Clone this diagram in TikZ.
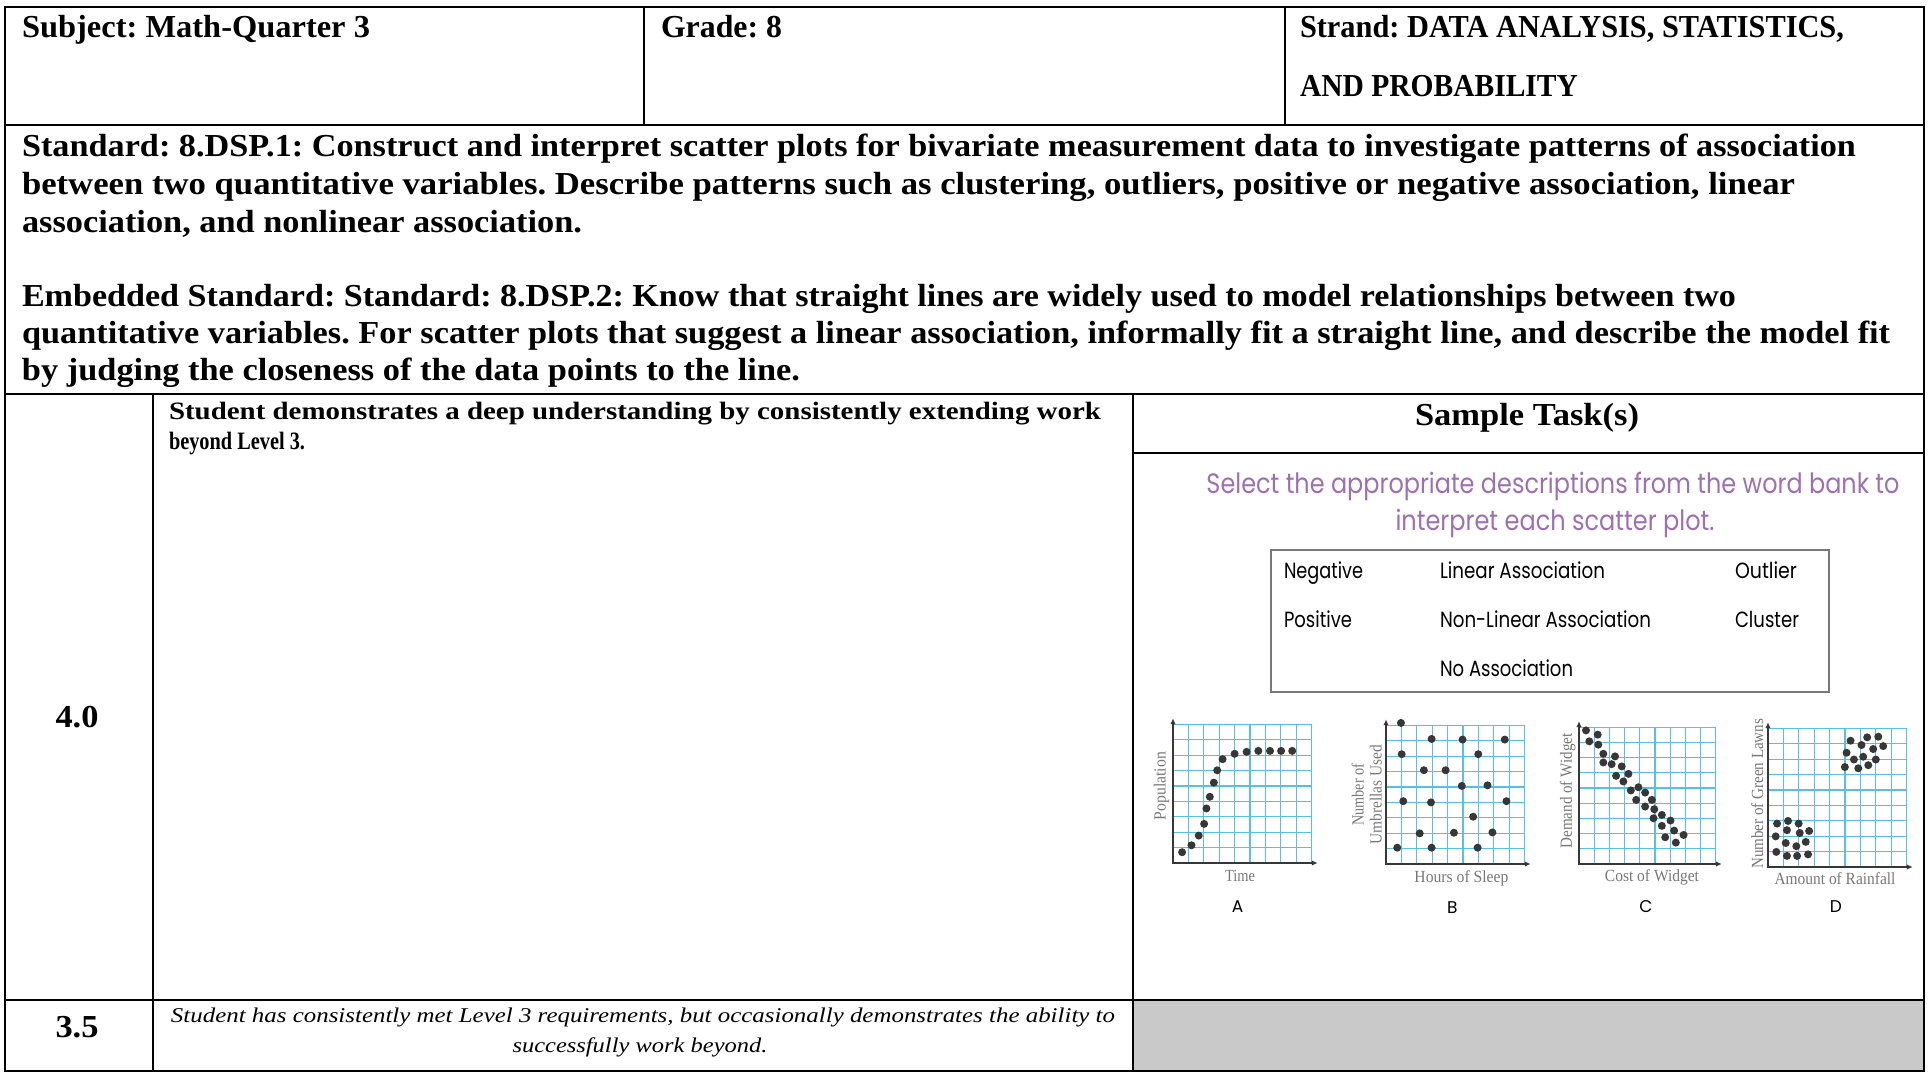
\documentclass[tikz,border=0pt]{standalone}
\usepackage{fontspec}
\setmainfont{Liberation Serif}
\newfontfamily\roundsans{Poppins}
\usetikzlibrary{arrows.meta}

\definecolor{taskpurple}{RGB}{158,112,178}
\definecolor{gridblue}{RGB}{85,192,232}
\definecolor{dotgray}{RGB}{55,55,55}
\definecolor{cellgray}{RGB}{201,201,201}
\definecolor{labelgray}{RGB}{120,120,120}
\definecolor{bankborder}{RGB}{120,120,120}

% set one line of text to a given width, keeping its height
\newcommand{\fitw}[2]{\resizebox{#1pt}{\height}{#2}}

% grid and axes of one scatter plot, in plot units
\newcommand{\plotframe}{%
  \foreach \i in {1,...,9} {%
    \draw[gridline] (\i,0) -- (\i,9);
    \draw[gridline] (0,\i) -- (9,\i);
  }
  \draw[axisline] (0,9.4) -- (0,0) -- (9.4,0);
}

\tikzset{
  tableline/.style={line width=2pt, black},
  txt/.style={inner sep=0pt, outer sep=0pt, anchor=base west},
  ctxt/.style={inner sep=0pt, outer sep=0pt, anchor=base},
  hdrfont/.style={font=\fontsize{32}{37}\selectfont\bfseries},
  stdfont/.style={font=\fontsize{32}{37}\selectfont\bfseries},
  lvlfont/.style={font=\fontsize{25}{30}\selectfont\bfseries},
  itfont/.style={font=\fontsize{21}{30}\selectfont\itshape},
  taskfont/.style={font=\roundsans\fontsize{28}{30}\selectfont, text=taskpurple},
  bankfont/.style={font=\roundsans\fontsize{22}{24}\selectfont},
  axlabel/.style={font=\fontsize{17}{18}\selectfont, text=labelgray, inner sep=0pt, align=center},
  plotletter/.style={font=\roundsans\fontsize{17}{18}\selectfont, inner sep=0pt},
  gridline/.style={gridblue, line width=1.2pt},
  axisline/.style={line width=2.2pt, dotgray, {Latex[length=6pt,width=5.5pt]}-{Latex[length=6pt,width=5.5pt]}},
  plotdot/.style={fill=dotgray},
}

\begin{document}
\frenchspacing
\begin{tikzpicture}[x=1pt, y=-1pt]
\useasboundingbox (0,0) rectangle (1931,1073);
\fill[white] (0,0) rectangle (1931,1073);

% shaded cell of the 3.5 row
\fill[cellgray] (1133,1000) rectangle (1924,1071);

% table rules
\draw[tableline] (5,7) rectangle (1924,1071);
\draw[tableline] (5,125) -- (1924,125);
\draw[tableline] (5,394) -- (1924,394);
\draw[tableline] (5,1000) -- (1924,1000);
\draw[tableline] (1133,453) -- (1924,453);
\draw[tableline] (644,7) -- (644,125);
\draw[tableline] (1285,7) -- (1285,125);
\draw[tableline] (153,394) -- (153,1071);
\draw[tableline] (1133,394) -- (1133,1071);

% header row
\node[txt, hdrfont] (subject) at (22,38) {\fitw{348}{Subject: Math-Quarter 3}};
\node[txt, hdrfont] (grade) at (661,38) {\fitw{121}{Grade: 8}};
\node[txt, hdrfont] (strandA) at (1300,38) {\fitw{544}{Strand: DATA ANALYSIS, STATISTICS,}};
\node[txt, hdrfont] (strandB) at (1300,96) {\fitw{278}{AND PROBABILITY}};

% standards
\node[txt, stdfont] (stdA) at (22,156) {\fitw{1834}{Standard: 8.DSP.1: Construct and interpret scatter plots for bivariate measurement data to investigate patterns of association}};
\node[txt, stdfont] (stdB) at (22,194) {\fitw{1773}{between two quantitative variables. Describe patterns such as clustering, outliers, positive or negative association, linear}};
\node[txt, stdfont] (stdC) at (22,232) {\fitw{560}{association, and nonlinear association.}};
\node[txt, stdfont] (embA) at (22,306) {\fitw{1714}{Embedded Standard: Standard: 8.DSP.2: Know that straight lines are widely used to model relationships between two}};
\node[txt, stdfont] (embB) at (22,343) {\fitw{1868}{quantitative variables. For scatter plots that suggest a linear association, informally fit a straight line, and describe the model fit}};
\node[txt, stdfont] (embC) at (22,380) {\fitw{778}{by judging the closeness of the data points to the line.}};

% level 4.0
\node[ctxt, stdfont] (lvlfour) at (77,727) {\fitw{43}{4.0}};
\node[txt, lvlfont] (fourA) at (169,419) {\fitw{932}{Student demonstrates a deep understanding by consistently extending work}};
\node[txt, lvlfont] (fourB) at (169,449) {\fitw{136}{beyond Level 3.}};
\node[ctxt, stdfont] (sample) at (1527,425) {\fitw{224}{Sample Task(s)}};

% sample task prompt
\node[ctxt, taskfont] (promptA) at (1553,493) {\fitw{693}{Select the appropriate descriptions from the word bank to}};
\node[ctxt, taskfont] (promptB) at (1555,530) {\fitw{319}{interpret each scatter plot.}};

% word bank
\draw[bankborder, line width=1.3pt] (1271,550) rectangle (1829,692);
\node[txt, bankfont] (wNeg) at (1284,578) {\fitw{79}{Negative}};
\node[txt, bankfont] (wLin) at (1440,578) {\fitw{165}{Linear Association}};
\node[txt, bankfont] (wOut) at (1735,578) {\fitw{62}{Outlier}};
\node[txt, bankfont] (wPos) at (1284,627) {\fitw{68}{Positive}};
\node[txt, bankfont] (wNon) at (1440,627) {\fitw{211}{Non-Linear Association}};
\node[txt, bankfont] (wClu) at (1735,627) {\fitw{64}{Cluster}};
\node[txt, bankfont] (wNo) at (1440,676) {\fitw{133}{No Association}};

% plot A: population over time
\begin{scope}[shift={(1173,863)}, x=15.4pt, y=15.4pt]
  \plotframe
  \foreach \p in {(0.59,0.70),(1.20,1.15),(1.67,1.78),(2.02,2.54),(2.17,3.54),(2.39,4.30),(2.65,5.22),(2.87,6.02),(3.22,6.74),(4.0,7.09),(4.78,7.22),(5.54,7.28),(6.30,7.28),(7.02,7.28),(7.74,7.28)}
    \fill[plotdot] \p circle (4pt);
  \node[axlabel, rotate=90] (labAy) at (-0.75,5.0) {\fitw{68}{Population}};
  \node[axlabel] (labAx) at (4.35,-0.85) {\fitw{30}{Time}};
  \node[plotletter] (letA) at (4.2,-2.85) {A};
\end{scope}

% plot B: umbrellas against sleep
\begin{scope}[shift={(1386,864)}, x=15.4pt, y=15.4pt]
  \plotframe
  \foreach \p in {(0.97,9.16),(2.96,8.12),(4.97,8.08),(7.71,8.08),(1.02,7.13),(5.99,7.13),(2.46,6.09),(3.87,6.09),(4.92,5.07),(6.59,5.11),(1.12,4.08),(2.92,4.0),(7.82,4.08),(5.66,3.07),(2.19,1.99),(4.41,2.03),(6.91,2.05),(0.73,1.06),(2.96,1.06),(5.95,1.06)}
    \fill[plotdot] \p circle (4pt);
  \node[axlabel, rotate=90] (labBy) at (-1.25,4.5) {\fitw{62}{Number of}\\\fitw{100}{Umbrellas Used}};
  \node[axlabel] (labBx) at (4.9,-0.9) {\fitw{94}{Hours of Sleep}};
  \node[plotletter] (letB) at (4.3,-2.8) {B};
\end{scope}

% plot C: demand against cost
\begin{scope}[shift={(1579,864)}, x=15.2pt, y=15.2pt]
  \plotframe
  \foreach \p in {(0.46,8.79),(1.23,8.51),(0.68,8.07),(1.27,7.85),(1.60,7.25),(2.37,7.08),(1.60,6.68),(2.15,6.57),(2.81,6.42),(2.44,5.80),(3.25,5.93),(2.92,5.43),(3.41,4.84),(3.91,5.05),(3.76,4.22),(4.35,4.70),(4.35,3.78),(4.79,4.22),(4.95,3.60),(5.45,3.23),(4.90,3.01),(6.02,2.86),(5.45,2.51),(6.26,2.20),(5.67,1.76),(6.88,1.91),(6.37,1.41)}
    \fill[plotdot] \p circle (4pt);
  \node[axlabel, rotate=90] (labCy) at (-0.75,4.8) {\fitw{115}{Demand of Widget}};
  \node[axlabel] (labCx) at (4.8,-0.85) {\fitw{94}{Cost of Widget}};
  \node[plotletter] (letC) at (4.4,-2.8) {C};
\end{scope}

% plot D: green lawns against rainfall
\begin{scope}[shift={(1768,867)}, x=15.4pt, y=15.4pt]
  \plotframe
  \foreach \p in {(5.36,8.20),(6.44,8.42),(7.16,8.46),(6.07,7.92),(6.83,7.66),(7.48,7.85),(5.10,7.42),(5.58,6.98),(6.18,7.16),(7.00,6.98),(4.99,6.49),(5.86,6.41),(6.51,6.61),
                  (0.59,2.82),(1.30,2.99),(1.99,2.82),(1.23,2.39),(2.06,2.21),(2.67,2.34),(0.50,1.99),(1.15,1.56),(1.84,1.35),(2.45,1.63),(0.54,0.98),(1.23,0.72),(1.89,0.72),(2.60,0.82)}
    \fill[plotdot] \p circle (4pt);
  \node[axlabel, rotate=90] (labDy) at (-0.7,4.75) {\fitw{150}{Number of Green Lawns}};
  \node[axlabel] (labDx) at (4.35,-0.75) {\fitw{121}{Amount of Rainfall}};
  \node[plotletter] (letD) at (4.4,-2.6) {D};
\end{scope}

% level 3.5
\node[ctxt, stdfont] (lvlthree) at (77,1037) {\fitw{43}{3.5}};
\node[ctxt, itfont] (threeA) at (643,1022) {\fitw{944}{Student has consistently met Level 3 requirements, but occasionally demonstrates the ability to}};
\node[ctxt, itfont] (threeB) at (640,1052) {\fitw{255}{successfully work beyond.}};
\end{tikzpicture}
\end{document}
